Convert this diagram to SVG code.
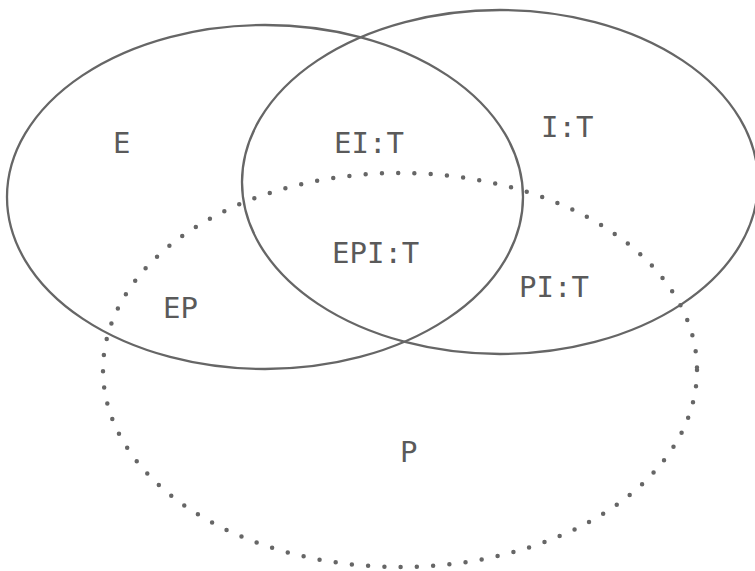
<svg xmlns="http://www.w3.org/2000/svg" width="755" height="571" viewBox="0 0 755 571">
<style>
.set{fill:none;stroke:#666;stroke-width:2.3}
.dot{fill:none;stroke:#666;stroke-width:4.5;stroke-linecap:round;stroke-dasharray:0 16.3}
.lbl{font-family:"DejaVu Sans Mono","Liberation Mono",monospace;font-size:29px;fill:#5a5a5a}
</style>
<rect width="755" height="571" fill="#fff"/>
<g id="set-E"><ellipse class="set" cx="265" cy="197" rx="258" ry="172"/></g>
<g id="set-I"><ellipse class="set" cx="500" cy="182" rx="258" ry="172"/></g>
<g id="set-P"><ellipse class="dot" cx="400" cy="370" rx="297" ry="197"/></g>
<g id="labels">
<text class="lbl" x="113" y="153">E</text>
<text class="lbl" x="334" y="153">EI:T</text>
<text class="lbl" x="541" y="137">I:T</text>
<text class="lbl" x="332" y="263">EPI:T</text>
<text class="lbl" x="163" y="318">EP</text>
<text class="lbl" x="519" y="297">PI:T</text>
<text class="lbl" x="400" y="462">P</text>
</g>
</svg>
